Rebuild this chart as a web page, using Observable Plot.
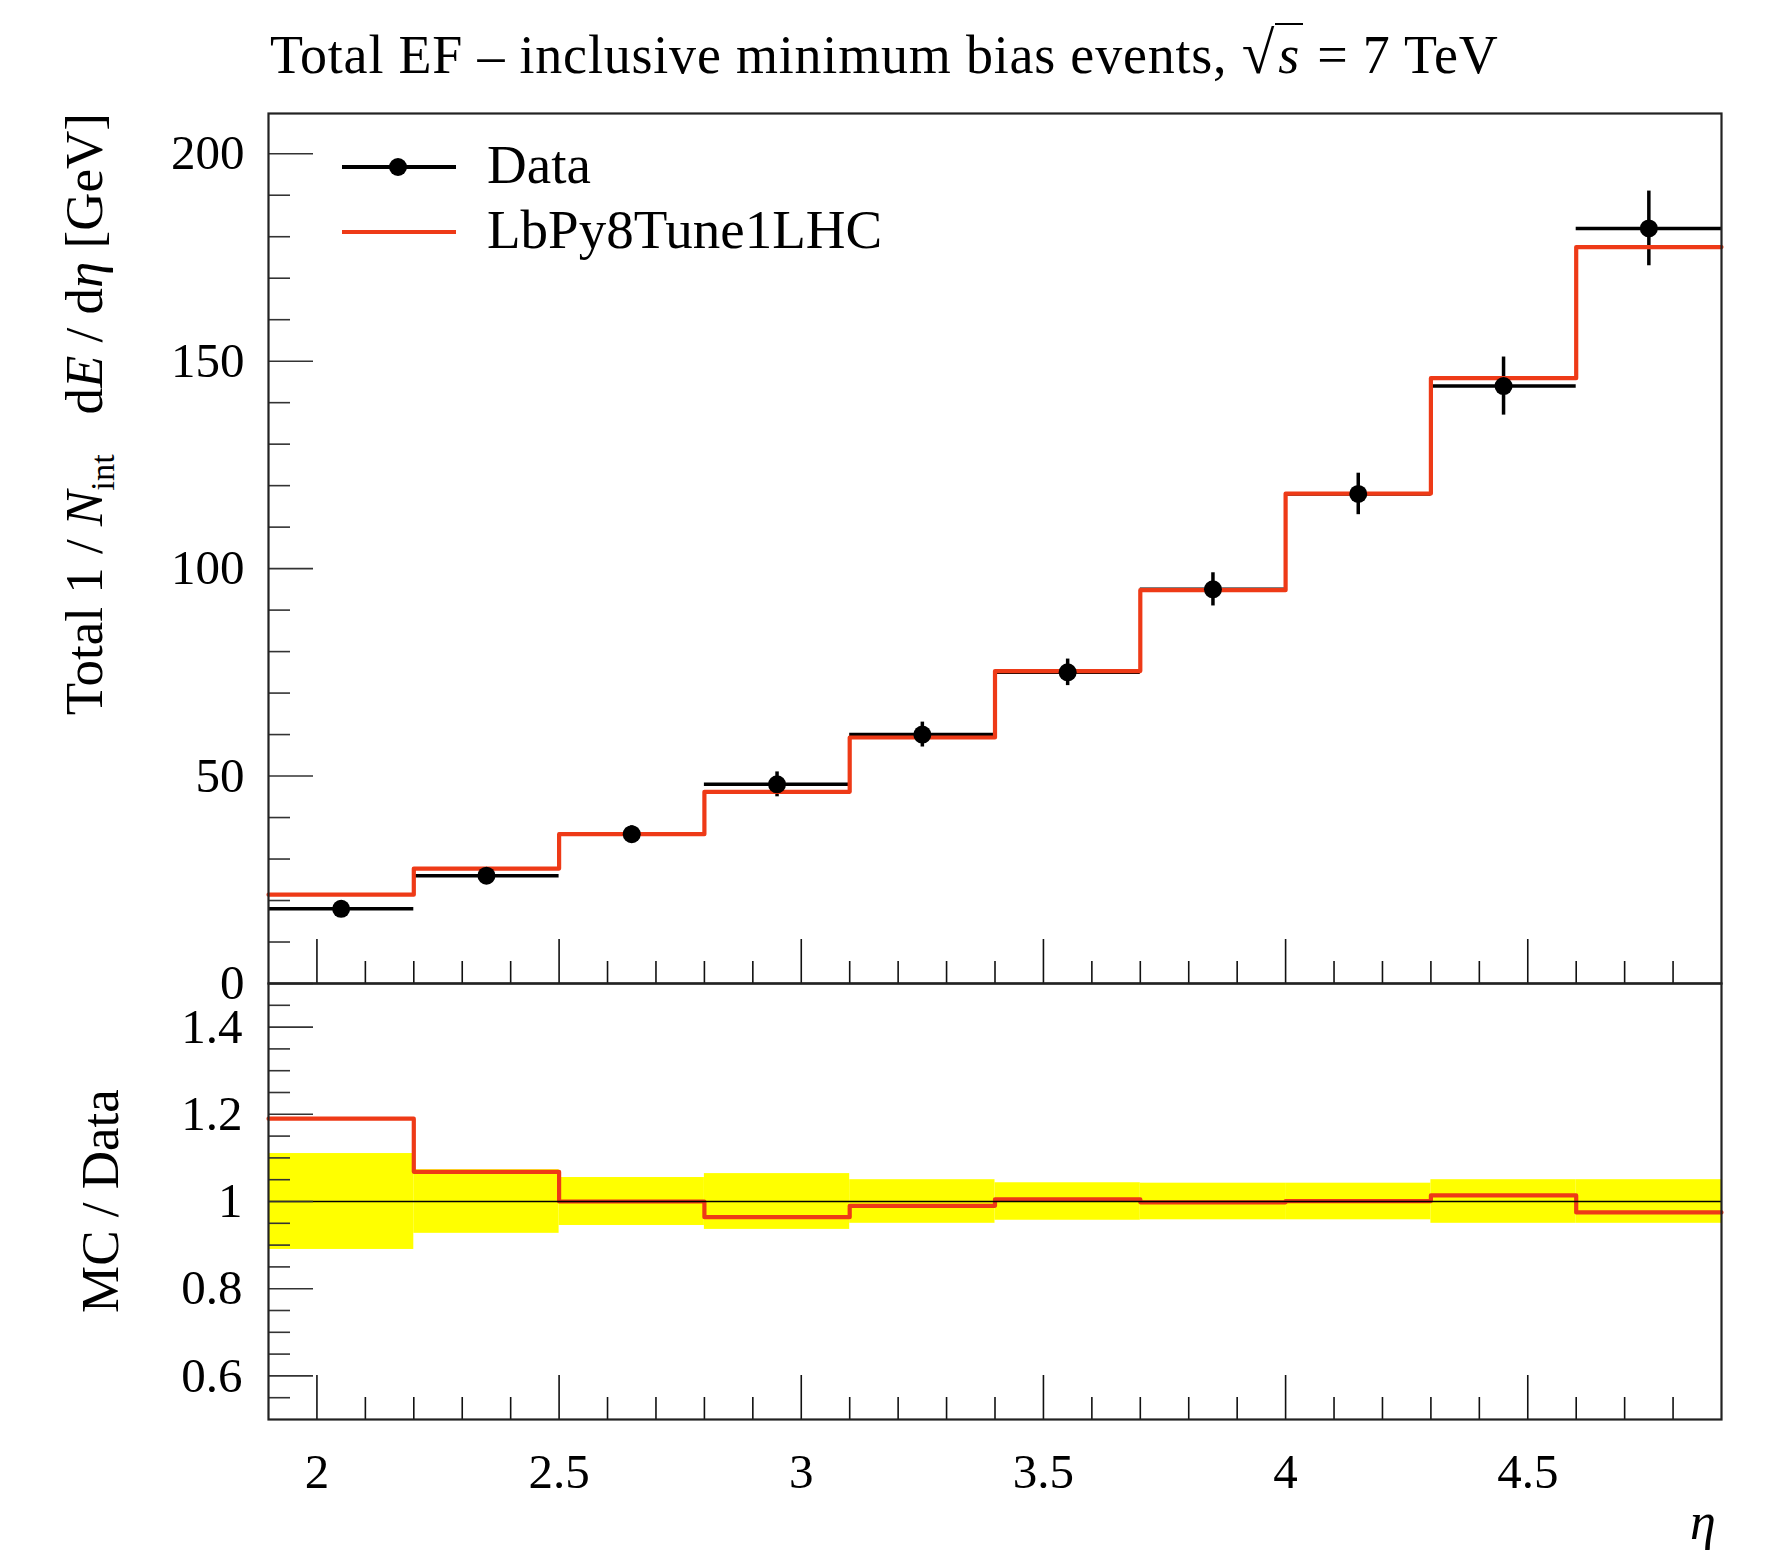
<!DOCTYPE html>
<html><head><meta charset="utf-8">
<script src="https://cdn.jsdelivr.net/npm/d3@7"></script>
<script src="https://cdn.jsdelivr.net/npm/@observablehq/plot@0.6"></script>
<style>
body{margin:0;background:#fff;}
#root{position:relative;width:1784px;height:1557px;font-family:"Liberation Serif",serif;color:#000;overflow:hidden;}
.abs{position:absolute;white-space:nowrap;line-height:1;}
.rot{position:absolute;width:0;height:0;transform:rotate(-90deg);transform-origin:0 0;}
.rot span{position:absolute;white-space:nowrap;line-height:1;}
svg{position:absolute;left:0;}
</style></head><body><div id="root"></div>
<script>
// bins in eta
const binLo = [1.9, 2.2, 2.5, 2.8, 3.1, 3.4, 3.7, 4.0, 4.3, 4.6];
const binHi = [2.2, 2.5, 2.8, 3.1, 3.4, 3.7, 4.0, 4.3, 4.6, 4.9];
// data points and errors [GeV]
const dataVal = [18, 26, 36, 48, 60, 75, 95, 118, 144, 182];
const dataErr = [2, 1.9, 2, 3, 3, 3.2, 4, 5, 7, 9];
// MC (LbPy8Tune1LHC)
const mcVal = [21.4, 27.7, 36, 46.2, 59.3, 75.3, 94.8, 118.1, 145.9, 177.5];
// ratio panel
const mcRatio = [1.19, 1.068, 1.0, 0.964, 0.99, 1.005, 0.998, 1.001, 1.014, 0.975];
const bandErr = [0.11, 0.073, 0.055, 0.064, 0.05, 0.043, 0.042, 0.042, 0.05, 0.05];
// ticks
const xMajor = [2, 2.5, 3, 3.5, 4, 4.5];
const xMinor = [2.1,2.2,2.3,2.4,2.6,2.7,2.8,2.9,3.1,3.2,3.3,3.4,3.6,3.7,3.8,3.9,4.1,4.2,4.3,4.4,4.6,4.7,4.8];
const yMainMajor = [0, 50, 100, 150, 200];
const yMainMinor = [10,20,30,40,60,70,80,90,110,120,130,140,160,170,180,190];
const yRatioMajor = [0.6, 0.8, 1, 1.2, 1.4];
const yRatioMinor = [0.55,0.65,0.7,0.75,0.85,0.9,0.95,1.05,1.1,1.15,1.25,1.3,1.35,1.45];

const RED = "#ee3a17";
const idx = d3.range(binLo.length);
const FRAMEC = "#222";

const root = document.getElementById("root");
const common = {
  width: 1784,
  marginLeft: 268, marginRight: 63,
  style: {fontFamily: "'Liberation Serif', serif", fontSize: "48px", background: "transparent", overflow: "visible"},
  x: {domain: [1.9, 4.9]}
};

const mainStep = idx.map(i => ({x: binLo[i], y: mcVal[i]})).concat([{x: binHi[binHi.length-1], y: mcVal[mcVal.length-1]}]);
const ratioStep = idx.map(i => ({x: binLo[i], y: mcRatio[i]})).concat([{x: binHi[binHi.length-1], y: mcRatio[mcRatio.length-1]}]);

const main = Plot.plot({
  ...common,
  height: 885, marginTop: 13, marginBottom: 2,
  y: {domain: [0, 209.7]},
  marks: [
    Plot.axisX(xMajor, {anchor: "bottom", tickSize: -44, fill: "none", stroke: "#111", strokeWidth: 1.6, label: null}),
    Plot.axisX(xMinor, {anchor: "bottom", tickSize: -22, fill: "none", stroke: "#111", strokeWidth: 1.6, label: null}),
    Plot.axisY(yMainMajor, {anchor: "left", tickSize: -45, fill: "none", stroke: "#333", strokeWidth: 1.6, label: null}),
    Plot.axisY(yMainMinor, {anchor: "left", tickSize: -22, fill: "none", stroke: "#333", strokeWidth: 1.6, label: null}),
    Plot.axisY(yMainMajor, {anchor: "left", tickSize: 0, tickPadding: 24, fontSize: 49, label: null}),
    // data error bars
    Plot.ruleY(idx, {y: i => dataVal[i], x1: i => binLo[i], x2: i => binHi[i], stroke: "#000", strokeWidth: 3.5}),
    Plot.ruleX(idx, {x: i => (binLo[i] + binHi[i]) / 2, y1: i => dataVal[i] - dataErr[i], y2: i => dataVal[i] + dataErr[i], stroke: "#000", strokeWidth: 3.5}),
    // MC histogram
    Plot.line(mainStep, {x: "x", y: "y", curve: "step-after", stroke: RED, strokeWidth: 4.2}),
    // data markers
    Plot.dot(idx, {x: i => (binLo[i] + binHi[i]) / 2, y: i => dataVal[i], r: 9, fill: "#000"}),
    Plot.frame({stroke: FRAMEC, strokeWidth: 2.2})
  ]
});
main.style.top = "100px";
root.appendChild(main);

const ratio = Plot.plot({
  ...common,
  height: 576, marginTop: 2, marginBottom: 138,
  y: {domain: [0.5, 1.5]},
  marks: [
    Plot.rect(idx, {x1: i => binLo[i], x2: i => binHi[i], y1: i => 1 - bandErr[i], y2: i => 1 + bandErr[i], fill: "#ffff00"}),
    Plot.line(ratioStep, {x: "x", y: "y", curve: "step-after", stroke: RED, strokeWidth: 4.2}),
    Plot.ruleY([1], {stroke: "#000", strokeWidth: 1.6}),
    Plot.axisX(xMajor, {anchor: "bottom", tickSize: -44, fill: "none", stroke: "#111", strokeWidth: 1.6, label: null}),
    Plot.axisX(xMinor, {anchor: "bottom", tickSize: -22, fill: "none", stroke: "#111", strokeWidth: 1.6, label: null}),
    Plot.axisX(xMajor, {anchor: "bottom", tickSize: 0, tickPadding: 34, fontSize: 49, label: null, tickFormat: d => String(d)}),
    Plot.axisY(yRatioMajor, {anchor: "left", tickSize: -45, fill: "none", stroke: "#333", strokeWidth: 1.6, label: null}),
    Plot.axisY(yRatioMinor, {anchor: "left", tickSize: -22, fill: "none", stroke: "#333", strokeWidth: 1.6, label: null}),
    Plot.axisY(yRatioMajor, {anchor: "left", tickSize: 0, tickPadding: 26, fontSize: 49, label: null, tickFormat: d => String(d)}),
    Plot.frame({stroke: FRAMEC, strokeWidth: 2.2})
  ]
});
ratio.style.top = "981px";
root.appendChild(ratio);

// Title
const title = document.createElement("div");
title.className = "abs";
title.style.cssText = "left:270px;top:24px;font-size:54px;letter-spacing:0.8px;";
title.innerHTML = 'Total EF – inclusive minimum bias events, <span style="font-size:1.1em">√</span><span style="border-top:2px solid #000;font-style:italic;padding:0 3px">s</span> = 7 TeV';
root.appendChild(title);

// Y label main (top-aligned)
const yl = document.createElement("div");
yl.className = "rot";
yl.style.left = "58px"; yl.style.top = "113px";
yl.innerHTML = '<span style="right:0;top:0;font-size:53px;">Total 1 / <i>N</i><sub style="font-size:0.65em">int</sub>&nbsp;&nbsp; d<i>E</i> / d<i>η</i> [GeV]</span>';
root.appendChild(yl);

// Y label ratio (centered)
const yr = document.createElement("div");
yr.className = "rot";
yr.style.left = "74px"; yr.style.top = "1201px";
yr.innerHTML = '<span style="left:0;top:0;transform:translateX(-50%);font-size:53px;">MC / Data</span>';
root.appendChild(yr);

// eta label
const eta = document.createElement("div");
eta.className = "abs";
eta.style.cssText = "left:1690px;top:1496px;font-size:52px;font-style:italic;";
eta.textContent = "η";
root.appendChild(eta);

// Legend
function legendRow(y, color, withDot, label) {
  const line = document.createElement("div");
  line.style.cssText = `position:absolute;left:342px;top:${y - 2}px;width:114px;height:4px;background:${color};`;
  root.appendChild(line);
  if (withDot) {
    const dot = document.createElement("div");
    dot.style.cssText = `position:absolute;left:${398 - 9}px;top:${y - 9}px;width:18px;height:18px;border-radius:50%;background:#000;`;
    root.appendChild(dot);
  }
  const t = document.createElement("div");
  t.className = "abs";
  t.style.cssText = `left:487px;top:${y - 30}px;font-size:55px;`;
  t.textContent = label;
  root.appendChild(t);
}
legendRow(167, "#000", true, "Data");
legendRow(232, RED, false, "LbPy8Tune1LHC");
</script>
</body></html>
